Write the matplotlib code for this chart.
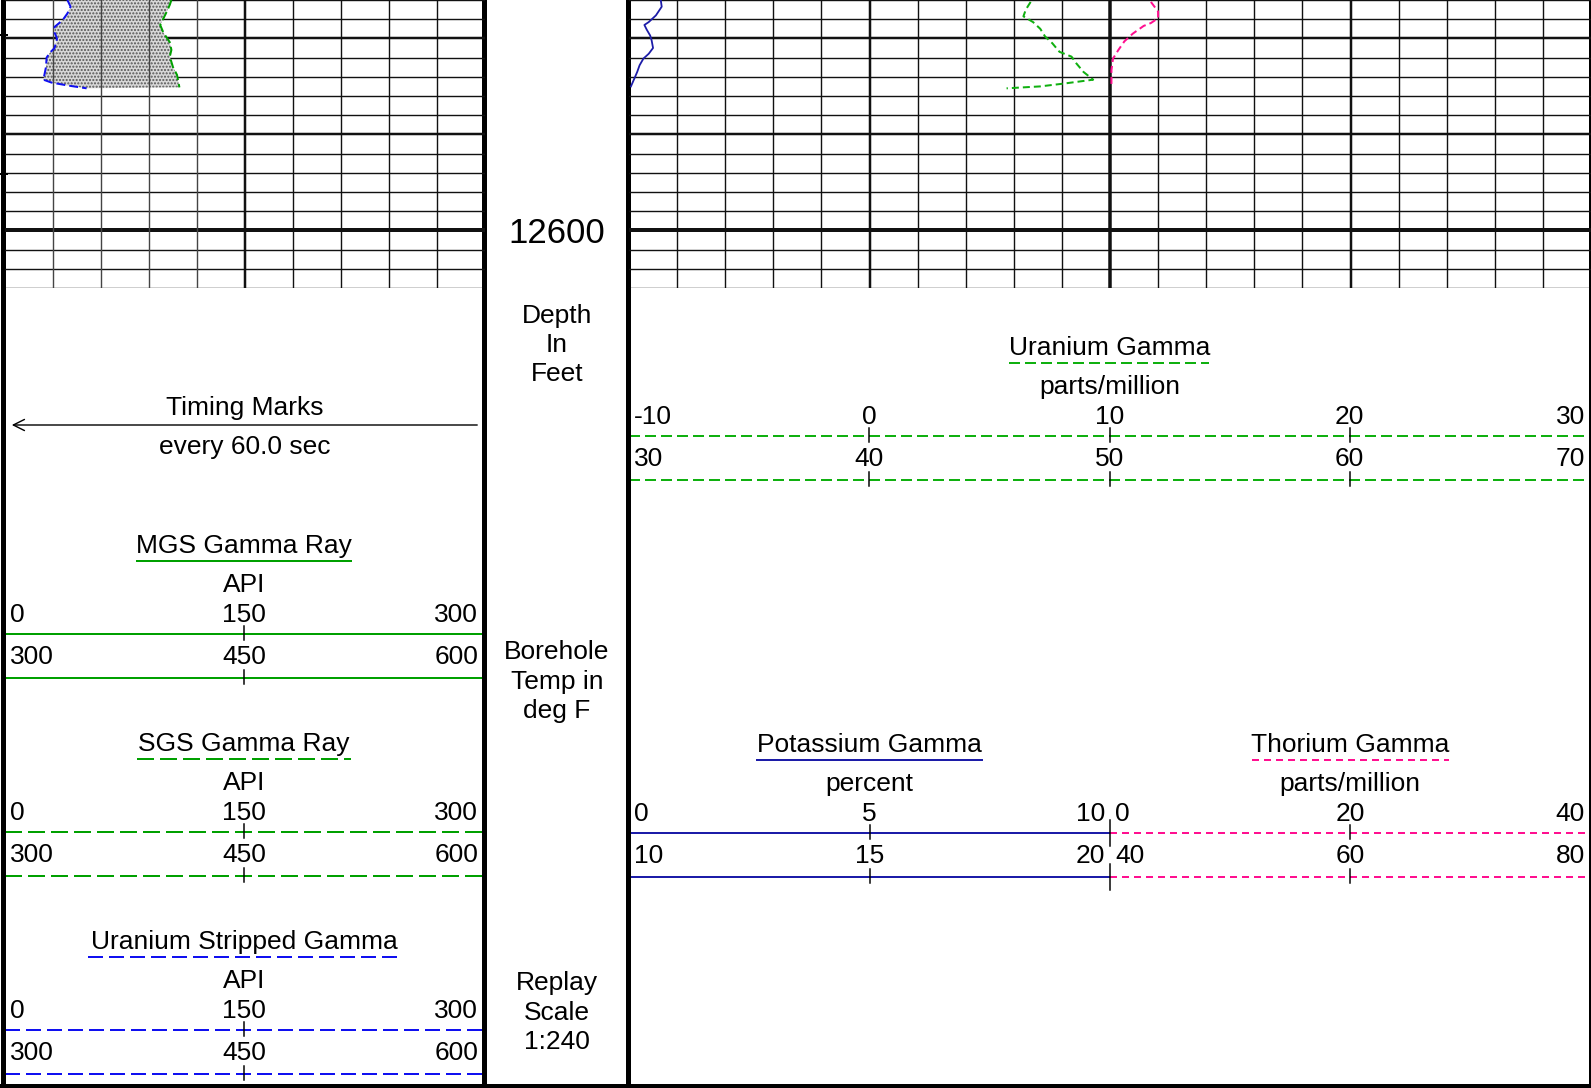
import numpy as np
import matplotlib.pyplot as plt

plt.rcParams['font.family'] = ['Liberation Sans', 'DejaVu Sans']
plt.rcParams['lines.scale_dashes'] = False
plt.rcParams['hatch.linewidth'] = 1.0

W, H = 1591, 1088
PX = 0.72  # points per pixel at dpi 100

# depth window shown in the log (feet)
top_depth, bottom_depth = 12576, 12606
depth_label = 12600
timing_depths = [12579.6, 12594.1]

# track 1 curves (API)
ustrip_depth = [12576.0, 12576.7, 12577.4, 12578.1, 12578.8, 12579.4, 12580.0, 12581.0,
                12581.5, 12582.0, 12583.0, 12584.3, 12584.6, 12584.9, 12585.2]
ustrip_api = [39, 41, 39, 36, 31, 31, 32.5, 31, 28, 26, 25.6, 24, 29, 39, 51]
sgs_depth = [12576.0, 12576.5, 12577.25, 12578.6, 12579.4, 12580.4, 12581.2, 12581.9,
             12583.0, 12583.8, 12585.1]
sgs_api = [104, 103, 101, 97, 99, 103, 104, 103, 105, 107.5, 109]

# track 2 curves
k_depth = [12576.0, 12576.7, 12577.6, 12578.3, 12578.6, 12579.1, 12579.7, 12580.2,
           12581.0, 12581.6, 12582.1, 12582.8, 12583.5, 12584.2, 12585.0]
k_pct = [0.66, 0.68, 0.56, 0.41, 0.32, 0.37, 0.44, 0.47, 0.5, 0.41, 0.3, 0.22, 0.17, 0.11, 0.04]
u_depth = [12576.2, 12577.0, 12577.7, 12578.3, 12579.0, 12579.8, 12580.5, 12581.4,
           12581.9, 12582.6, 12583.5, 12584.3, 12584.7, 12585.0, 12585.2]
u_ppm = [6.7, 6.5, 6.4, 6.8, 7.1, 7.3, 7.6, 7.9, 8.4, 8.6, 8.9, 9.3, 8.1, 7.1, 5.7]
th_depth = [12576.2, 12577.2, 12577.9, 12578.4, 12578.7, 12579.5, 12580.3, 12581.2,
            12582.1, 12583.3, 12585.1]
th_ppm = [3.4, 4.0, 4.0, 3.4, 2.8, 1.9, 1.2, 0.7, 0.25, 0.12, 0.12]

GREEN = '#00a000'
GREEN2 = '#10b010'
BLUE = '#1010f0'
NAVY = '#1c1ca8'
PINK = '#ff1090'

SOLID = '-'
SGS_DASH = (0, (17 * PX, 6 * PX))
USTRIP_DASH = (0, (15 * PX, 6 * PX))
URAN_DASH = (0, (11 * PX, 5 * PX))
THOR_DASH = (0, (7 * PX, 5 * PX))

# header scale blocks: title, unit, color, style, row1 labels, row2 labels
track1_scales = [
    ("MGS Gamma Ray", "API", GREEN, SOLID, [0, 150, 300], [300, 450, 600]),
    ("SGS Gamma Ray", "API", GREEN, SGS_DASH, [0, 150, 300], [300, 450, 600]),
    ("Uranium Stripped Gamma", "API", BLUE, USTRIP_DASH, [0, 150, 300], [300, 450, 600]),
]
uranium_labels = ([-10, 0, 10, 20, 30], [30, 40, 50, 60, 70])
potassium_labels = ([0, 5, 10], [10, 15, 20])
thorium_labels = ([0, 20, 40], [40, 60, 80])

FS = 19
DY = 2  # text nudge so the glyphs sit where the reference has them

fig = plt.figure(figsize=(W / 100, H / 100), dpi=100)


def px_axes(x0, y0, x1, y1):
    return fig.add_axes([x0 / W, 1 - y1 / H, (x1 - x0) / W, (y1 - y0) / H])


def txt(x, y, s, ha='center'):
    base.text(x, y + DY, s, ha=ha, va='center', fontsize=FS)


base = px_axes(0, 0, W, H)
base.set_xlim(0, W)
base.set_ylim(H, 0)
base.axis('off')

T1 = (5, 485)
DT = (485, 629)
T2 = (629, 1591)
GRID_BOTTOM = 288


def depth_grid(ax):
    for d in range(top_depth, bottom_depth + 1, 2):
        if d % 50 == 0:
            lw = 4
        elif d % 10 == 0:
            lw = 2.5
        else:
            lw = 1.4
        ax.axhline(d, color='#111111', lw=lw * PX, zorder=1)


# ---- track 1 (API 0-300)
ax1 = px_axes(T1[0], 0, T1[1], GRID_BOTTOM)
ax1.set_xlim(0, 300)
ax1.set_ylim(bottom_depth, top_depth)
ax1.axis('off')
depth_grid(ax1)
for v in range(30, 300, 30):
    ax1.axvline(v, color='#444444' if v < 150 else '#111111',
                lw=(2.5 if v == 150 else 1.4) * PX, zorder=4)
ax1.fill(np.r_[ustrip_api, sgs_api[::-1]], np.r_[ustrip_depth, sgs_depth[::-1]],
         facecolor='#d8d8d8', edgecolor='#555555', hatch='.....', lw=0, zorder=3)
ax1.plot(ustrip_api, ustrip_depth, color=BLUE, lw=2 * PX, ls=(0, (9 * PX, 4 * PX)), zorder=5)
ax1.plot(sgs_api, sgs_depth, color=GREEN, lw=2 * PX, ls=(0, (9 * PX, 4 * PX)), zorder=5)
for d in timing_depths:
    ax1.plot([-5 / 480 * 300, 2 / 480 * 300], [d, d], color='black', lw=2 * PX,
             clip_on=False, zorder=6)

# ---- depth track
axd = px_axes(DT[0], 0, DT[1], GRID_BOTTOM)
axd.set_xlim(0, 1)
axd.set_ylim(bottom_depth, top_depth)
axd.axis('off')
axd.text(0.5, depth_label + 0.3, str(depth_label), ha='center', va='center', fontsize=25)

# ---- track 2 (potassium 0-20 across the full track)
ax2 = px_axes(T2[0], 0, T2[1], GRID_BOTTOM)
ax2.set_xlim(0, 20)
ax2.set_ylim(bottom_depth, top_depth)
ax2.axis('off')
depth_grid(ax2)
for v in range(1, 20):
    lw = 3.5 if v == 10 else (2.5 if v % 5 == 0 else 1.4)
    ax2.axvline(v, color='#111111', lw=lw * PX, zorder=2)
ax2.plot(k_pct, k_depth, color=NAVY, lw=1.8 * PX, zorder=5)

axu = px_axes(T2[0], 0, T2[1], GRID_BOTTOM)
axu.set_xlim(-10, 30)
axu.set_ylim(bottom_depth, top_depth)
axu.axis('off')
axu.plot(u_ppm, u_depth, color=GREEN2, lw=2 * PX, ls=(0, (7 * PX, 4 * PX)), zorder=5)

axt = px_axes(T2[0], 0, T2[1], GRID_BOTTOM)
axt.set_xlim(-40, 40)
axt.set_ylim(bottom_depth, top_depth)
axt.axis('off')
axt.plot(th_ppm, th_depth, color=PINK, lw=2 * PX, ls=(0, (7 * PX, 4 * PX)), zorder=5)

# ---- borders
for x, lw in [(2.5, 5), (484, 5), (628, 5), (1589.5, 3)]:
    base.plot([x, x], [0, H], color='black', lw=lw * PX, zorder=10)
base.plot([0, W], [1085.5, 1085.5], color='black', lw=5 * PX, zorder=10)


# ---- header helpers
def scale_block(x0, x1, ty, title, unit, color, ls, row1, row2, ul):
    cx = (x0 + x1) / 2
    txt(cx, ty, title)
    base.plot(list(ul), [ty + 17, ty + 17], color=color, lw=2 * PX, ls=ls)
    txt(cx, ty + 39, unit)
    for row, dy, ly in [(row1, 69, 90), (row2, 111, 134)]:
        n = len(row)
        for i, v in enumerate(row):
            if i == 0:
                txt(x0 + 5, ty + dy, str(v), ha='left')
            elif i == n - 1:
                txt(x1 - 5, ty + dy, str(v), ha='right')
            else:
                txt(x0 + (x1 - x0) * i / (n - 1), ty + dy, str(v))
        base.plot([x0, x1], [ty + ly, ty + ly], color=color, lw=2 * PX, ls=ls)
        for i in range(1, n - 1):
            px = x0 + (x1 - x0) * i / (n - 1)
            base.plot([px, px], [ty + ly - 8, ty + ly + 6], color='black', lw=1.5 * PX)


# timing marks
txt(245, 406, "Timing Marks")
base.annotate('', xy=(9, 425), xytext=(480, 425),
              arrowprops=dict(arrowstyle='->', lw=1.4 * PX, color='black', mutation_scale=20))
txt(245, 445, "every 60.0 sec")

ul1 = [(137, 351), (137, 351), (88, 402)]
for (title, unit, color, ls, r1, r2), ty, ul in zip(track1_scales, [544, 742, 940], ul1):
    scale_block(T1[0], T1[1] - 2, ty, title, unit, color, ls, r1, r2, ul)

# depth track texts
for lines, ys in [(["Depth", "In", "Feet"], [314, 343, 372]),
                  (["Borehole", "Temp in", "deg F"], [650, 680, 709]),
                  (["Replay", "Scale", "1:240"], [981, 1011, 1040])]:
    for s, y in zip(lines, ys):
        txt(557, y, s)

# track 2 header
scale_block(T2[0], T2[1] - 1, 346, "Uranium Gamma", "parts/million", GREEN2, URAN_DASH,
            uranium_labels[0], uranium_labels[1], (1009, 1209))
scale_block(T2[0], 1110, 743, "Potassium Gamma", "percent", NAVY, SOLID,
            potassium_labels[0], potassium_labels[1], (757, 982))
scale_block(1110, T2[1] - 1, 743, "Thorium Gamma", "parts/million", PINK, THOR_DASH,
            thorium_labels[0], thorium_labels[1], (1252, 1449))
for ly in [743 + 90, 743 + 134]:
    base.plot([1110, 1110], [ly - 13, ly + 13], color='black', lw=1.5 * PX, zorder=6)

fig.savefig('out.png', dpi=100)
